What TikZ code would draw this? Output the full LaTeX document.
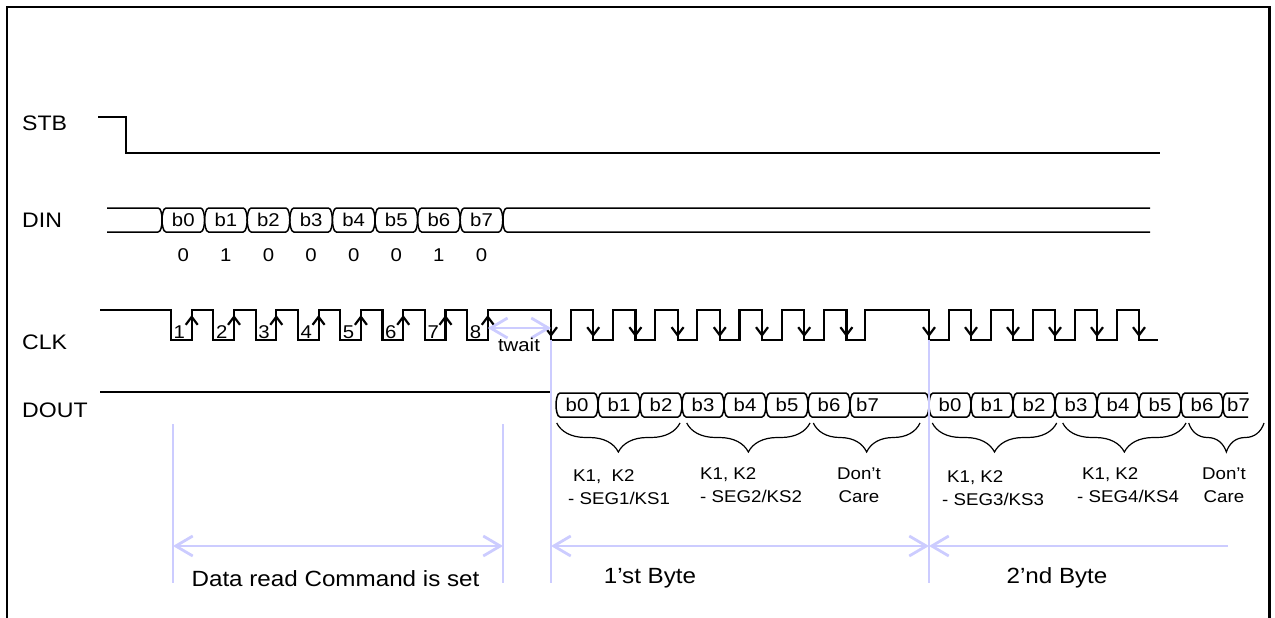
\documentclass[tikz,border=0pt]{standalone}
\usepackage{fontspec}
\setmainfont{Liberation Sans}[FakeStretch=1.1]
\usetikzlibrary{arrows.meta}
\usetikzlibrary{calc}
\usetikzlibrary{decorations.pathreplacing}
\definecolor{lavender}{RGB}{204,204,255}
\tikzstyle{sig} = [draw,line width=2.2pt]
\tikzstyle{bus} = [draw,line width=1.5pt]
\tikzstyle{dim} = [draw=lavender,line width=2.8pt]
\tikzstyle{guide} = [draw=lavender,line width=1.2pt]
\tikzstyle{signame} = [anchor=west,inner sep=0pt,font=\fontsize{21}{25}\selectfont]
\tikzstyle{bitlab} = [inner sep=0pt,font=\fontsize{18.5}{22}\selectfont]
\tikzstyle{note} = [inner sep=0pt,font=\fontsize{17}{23}\selectfont]
\tikzstyle{caption} = [inner sep=0pt,font=\fontsize{22}{26}\selectfont]
\tikzstyle{grp} = [draw,line width=1.2pt,decorate,decoration={brace,mirror,amplitude=29pt}]
\tikzstyle{clkedge} = [sig,-{Straight Barb[length=8pt,width=12pt]}]

\begin{document}
\begin{tikzpicture}[x=1pt,y=-1pt,>={Straight Barb[length=17pt,width=20pt]}]
\useasboundingbox (0,0) rectangle (1275,618);

% Frame
    \draw[line width=2.4pt] (7,618) -- (7,7) -- (1269.5,7) -- (1269.5,618);

% Signal names
    \node[signame] (stb) at (22,123) {STB};
    \node[signame] (din) at (22,220) {DIN};
    \node[signame] (clk) at (22,342) {CLK};
    \node[signame] (dout) at (22,410) {DOUT};

% One bus cell: left x, right x, top y, bottom y
    \def\bitcell#1#2#3#4{%
      \draw[bus] (#1+4,#3) -- (#2-4,#3)
        .. controls (#2-1,#3) and (#2,{(#3*2+#4)/3}) .. (#2,{(#3+#4)/2})
        .. controls (#2,{(#3+#4*2)/3}) and (#2-1,#4) .. (#2-4,#4) -- (#1+4,#4)
        .. controls (#1+1,#4) and (#1,{(#3+#4*2)/3}) .. (#1,{(#3+#4)/2})
        .. controls (#1,{(#3*2+#4)/3}) and (#1+1,#3) .. cycle;}

% STB
    \draw[sig] (98,117) -- (126,117) -- (126,153) -- (1160,153);

% DIN
    \draw[bus] (107,208) -- (158,208) .. controls (161,208) and (162,214) .. (162,220)
        .. controls (162,226) and (161,232) .. (158,232) -- (107,232);
    \foreach \i in {0,...,7} {
        \pgfmathsetmacro\xa{162+\i*42.6}
        \pgfmathsetmacro\xb{\xa+42.6}
        \bitcell{\xa}{\xb}{208}{232}
        \node[bitlab] (din\i) at ({(\xa+\xb)/2},220) {b\i};
    }
    \draw[bus] (1150,208) -- (507,208) .. controls (504,208) and (503,214) .. (503,220)
        .. controls (503,226) and (504,232) .. (507,232) -- (1150,232);
    \foreach \v [count=\i from 0] in {0,1,0,0,0,0,1,0}
        \node[bitlab] (val\i) at ({183.3+\i*42.6},255) {\v};

% CLK
    \draw[sig] (100,310)
        foreach \i in {0,...,7} { -- ({171+\i*42.3},310) -- ({171+\i*42.3},340)
            -- ({191.7+\i*42.3},340) -- ({191.7+\i*42.3},310) }
        -- (551,310) -- (551,340)
        foreach \j in {0,...,6} { -- ({570.7+\j*42.2},340) -- ({570.7+\j*42.2},310)
            -- ({593.2+\j*42.2},310) -- ({593.2+\j*42.2},340) }
        -- (865,340) -- (865,310) -- (929,310) -- (929,340)
        foreach \k in {0,...,4} { -- ({949+\k*42},340) -- ({949+\k*42},310)
            -- ({971+\k*42},310) -- ({971+\k*42},340) }
        -- (1158,340);
    \foreach \i in {0,...,7} {
        \draw[clkedge] ({191.7+\i*42.3},340) -- ({191.7+\i*42.3},315);
        \draw[clkedge] ({551+\i*42.2},310) -- ({551+\i*42.2},337);
    }
    \foreach \k in {0,...,5}
        \draw[clkedge] ({929+\k*42},310) -- ({929+\k*42},337);
    \foreach \n in {1,...,8}
        \node[bitlab,anchor=base west] (tick\n) at ({173.5+(\n-1)*42.3},338) {\n};

% twait
    \coordinate (tw1) at (487.8,328);
    \coordinate (tw2) at (551,328);
    \draw[dim,<->] (tw1) -- (tw2);
    \node[bitlab] (twait) at (519,345) {twait};

% DOUT
    \draw[bus] (100,392) -- (551,392);
    \foreach \i in {0,...,6} {
        \pgfmathsetmacro\xa{556+\i*42}
        \bitcell{\xa}{\xa+42}{393}{417}
        \node[bitlab] (outa\i) at ({\xa+21},405) {b\i};
    }
    \bitcell{850}{929}{393}{417}
    \node[bitlab,anchor=west] (outa7) at (856,405) {b7};
    \foreach \i in {0,...,6} {
        \pgfmathsetmacro\xa{929+\i*42}
        \bitcell{\xa}{\xa+42}{393}{417}
        \node[bitlab] (outb\i) at ({\xa+21},405) {b\i};
    }
    \draw[bus] (1248,393) -- (1227,393) .. controls (1224,393) and (1223,399) .. (1223,405)
        .. controls (1223,411) and (1224,417) .. (1227,417) -- (1248,417);
    \node[bitlab,anchor=west] (outb7) at (1227,405) {b7};

% Braces and key groups (base = last line)
    \foreach \a/\b in {556.7/680, 686.7/810, 813.3/920, 932.3/1056.7, 1062.7/1186, 1188.7/1264}
        \draw[grp] (\a,423) -- (\b,423);
    \node[note,anchor=base west,align=left] (grp1) at (568,504) {\hspace*{5pt}K1,~ K2\\- SEG1/KS1};
    \node[note,anchor=base west,align=left] (grp2) at (700,502) {K1, K2\\- SEG2/KS2};
    \node[note,anchor=base,align=center] (grp3) at (859,502) {Don’t\\Care};
    \node[note,anchor=base west,align=left] (grp4) at (942,505) {\hspace*{5pt}K1, K2\\- SEG3/KS3};
    \node[note,anchor=base west,align=left] (grp5) at (1077,502) {\hspace*{5pt}K1, K2\\- SEG4/KS4};
    \node[note,anchor=base,align=center] (grp6) at (1224,502) {Don’t\\Care};

% Guides and spans
    \draw[guide] (551,340) -- (551,583);
    \draw[guide] (929,340) -- (929,583);
    \draw[guide] (173,424) -- (173,583);
    \draw[guide] (503,424) -- (503,583);
    \draw[dim,<->] (173,546) -- (503,546);
    \draw[dim,<->] (551,546) -- (929,546);
    \draw[dim,<-] (929,546) -- (1228,546);
    \node[caption] (cmd) at (335.5,579) {Data read Command is set};
    \node[caption] (byte1) at (650,578) {1’st Byte};
    \node[caption] (byte2) at (1057,578) {2’nd Byte};

\end{tikzpicture}
\end{document}
